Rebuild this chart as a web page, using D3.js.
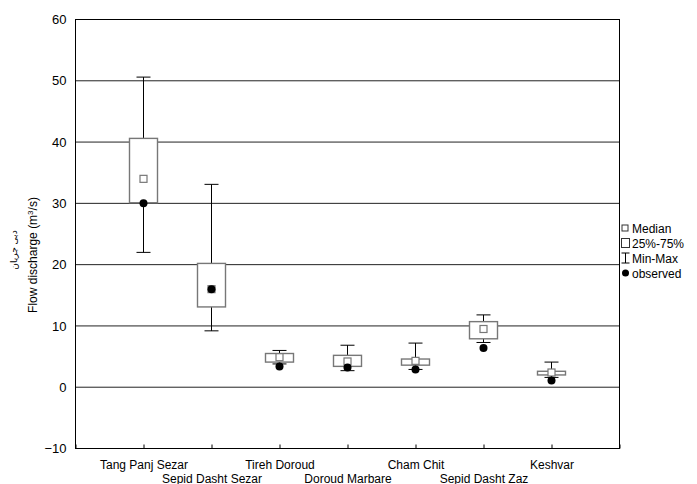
<!DOCTYPE html>
<html>
<head>
<meta charset="utf-8">
<script src="https://cdn.jsdelivr.net/npm/d3@7"></script>
<style>
  body { margin: 0; background: #fff; }
  svg { font-family: Arial, "Liberation Sans", sans-serif; }
  .axis path, .axis line { stroke: #000; }
</style>
</head>
<body>
<div id="chart"></div>
<script>
// stations along the river
var sites = ["Tang Panj Sezar", "Sepid Dasht Sezar", "Tireh Doroud", "Doroud Marbare",
             "Cham Chit", "Sepid Dasht Zaz", "Keshvar"];
// simulated flow stats (m3/s)
var minV     = [22.0,  9.2, 3.8, 2.7,  2.9,  7.3, 1.6];
var q1       = [30.1, 13.1, 4.1, 3.4,  3.6,  7.9, 2.0];
var medianV  = [34.0, 16.0, 4.9, 4.2,  4.3,  9.5, 2.4];
var q3       = [40.6, 20.2, 5.5, 5.2,  4.6, 10.7, 2.6];
var maxV     = [50.6, 33.1, 6.0, 6.85, 7.2, 11.8, 4.1];
var observed = [30.0, 16.0, 3.4, 3.2,  2.9,  6.4, 1.1];
var yTicks = [-10, 0, 10, 20, 30, 40, 50, 60];
var legendItems = ["Median", "25%-75%", "Min-Max", "observed"];

var width = 697, height = 484;
var pLeft = 75.5, pRight = 619.5, pTop = 19.5, pBottom = 448.5;

var svg = d3.select("#chart").append("svg")
    .attr("width", width)
    .attr("height", height);

var x = d3.scaleLinear().domain([0, sites.length + 1]).range([pLeft, pRight]);
var y = d3.scaleLinear().domain([-10, 60]).range([pBottom, pTop]);

var rows = sites.map(function(s, i) {
  return {name: s, i: i + 1, min: minV[i], q1: q1[i], med: medianV[i],
          q3: q3[i], max: maxV[i], obs: observed[i]};
});

// grid
svg.append("g").selectAll("line.grid")
  .data(yTicks.filter(function(d) { return d > -10 && d < 60; }))
  .enter().append("line")
  .attr("class", "grid")
  .attr("x1", pLeft).attr("x2", pRight)
  .attr("y1", function(d) { return y(d); })
  .attr("y2", function(d) { return y(d); })
  .attr("stroke", "#222");

// axes
var yAxis = d3.axisLeft(y).tickValues(yTicks).tickSize(0).tickPadding(9);
svg.append("g").attr("class", "axis")
  .attr("transform", "translate(" + pLeft + ",0)")
  .call(yAxis)
  .call(function(g) {
    g.select(".domain").remove();
    g.selectAll("text").attr("font-size", 13).attr("fill", "#000")
      .attr("font-family", "Arial, 'Liberation Sans', sans-serif");
  });

var xAxis = d3.axisBottom(x)
  .tickValues(d3.range(0, sites.length + 2))
  .tickSizeInner(-4).tickSizeOuter(0)
  .tickPadding(9)
  .tickFormat(function(d) { return (d >= 1 && d <= sites.length) ? sites[d - 1] : ""; });

svg.append("g").attr("class", "axis")
  .attr("transform", "translate(0," + pBottom + ")")
  .call(xAxis)
  .call(function(g) {
    g.select(".domain").remove();
    g.selectAll("text")
      .attr("font-size", 12).attr("fill", "#000")
      .attr("font-family", "Arial, 'Liberation Sans', sans-serif")
      .attr("dy", null)
      .attr("y", function(d) { return (d % 2 === 0) ? 34 : 20; });
  });

// frame
svg.append("rect")
  .attr("x", pLeft).attr("y", pTop)
  .attr("width", pRight - pLeft).attr("height", pBottom - pTop)
  .attr("fill", "none").attr("stroke", "#000");

// box plots
var boxW = 28, capW = 14, medS = 7;
var g = svg.append("g").selectAll("g.site")
  .data(rows).enter().append("g").attr("class", "site");

g.append("line")
  .attr("x1", function(d) { return x(d.i); })
  .attr("x2", function(d) { return x(d.i); })
  .attr("y1", function(d) { return y(d.max); })
  .attr("y2", function(d) { return y(d.min); })
  .attr("stroke", "#000");

g.append("line")
  .attr("x1", function(d) { return x(d.i) - capW / 2; })
  .attr("x2", function(d) { return x(d.i) + capW / 2; })
  .attr("y1", function(d) { return y(d.max); })
  .attr("y2", function(d) { return y(d.max); })
  .attr("stroke", "#000");

g.append("line")
  .attr("x1", function(d) { return x(d.i) - capW / 2; })
  .attr("x2", function(d) { return x(d.i) + capW / 2; })
  .attr("y1", function(d) { return y(d.min); })
  .attr("y2", function(d) { return y(d.min); })
  .attr("stroke", "#000");

g.append("rect")
  .attr("x", function(d) { return x(d.i) - boxW / 2; })
  .attr("y", function(d) { return y(d.q3); })
  .attr("width", boxW)
  .attr("height", function(d) { return y(d.q1) - y(d.q3); })
  .attr("fill", "#fff")
  .attr("stroke", "#777")
  .attr("stroke-width", 1.4);

g.append("rect")
  .attr("x", function(d) { return x(d.i) - medS / 2; })
  .attr("y", function(d) { return y(d.med) - medS / 2; })
  .attr("width", medS).attr("height", medS)
  .attr("fill", "#fff")
  .attr("stroke", "#777")
  .attr("stroke-width", 1.2);

g.append("circle")
  .attr("cx", function(d) { return x(d.i); })
  .attr("cy", function(d) { return y(d.obs); })
  .attr("r", 4)
  .attr("fill", "#000");

// y title
svg.append("text")
  .attr("transform", "translate(37,255) rotate(-90)")
  .attr("text-anchor", "middle")
  .attr("font-size", 12)
  .html("Flow discharge (m<tspan dy='-4' font-size='8'>3</tspan><tspan dy='4'>/s)</tspan>");

svg.append("text")
  .attr("transform", "translate(17,250) rotate(-90)")
  .attr("text-anchor", "middle")
  .attr("font-family", "'DejaVu Sans', 'Noto Sans', sans-serif")
  .attr("font-size", 9)
  .attr("direction", "rtl")
  .text("دبی جریان");

// legend
var lx = 625, ly0 = 228, lstep = 15;
var leg = svg.append("g").selectAll("g.leg")
  .data(legendItems).enter().append("g")
  .attr("transform", function(d, i) { return "translate(" + lx + "," + (ly0 + i * lstep) + ")"; });

leg.append("text")
  .attr("x", 7).attr("y", 4.5)
  .attr("font-size", 12)
  .text(function(d) { return d; });

leg.each(function(d, i) {
  var s = d3.select(this);
  if (i === 0) {
    s.append("rect").attr("x", -3).attr("y", -3).attr("width", 6).attr("height", 6)
      .attr("fill", "#fff").attr("stroke", "#333");
  } else if (i === 1) {
    s.append("rect").attr("x", -3.5).attr("y", -4.5).attr("width", 8).attr("height", 9)
      .attr("fill", "#fff").attr("stroke", "#333");
  } else if (i === 2) {
    s.append("path").attr("d", "M-3.5,-5H4.5M0.5,-5V5M-3.5,5H4.5")
      .attr("stroke", "#000").attr("fill", "none");
  } else {
    s.append("circle").attr("cx", 0.5).attr("cy", 0).attr("r", 3.5).attr("fill", "#000");
  }
});
</script>
</body>
</html>
